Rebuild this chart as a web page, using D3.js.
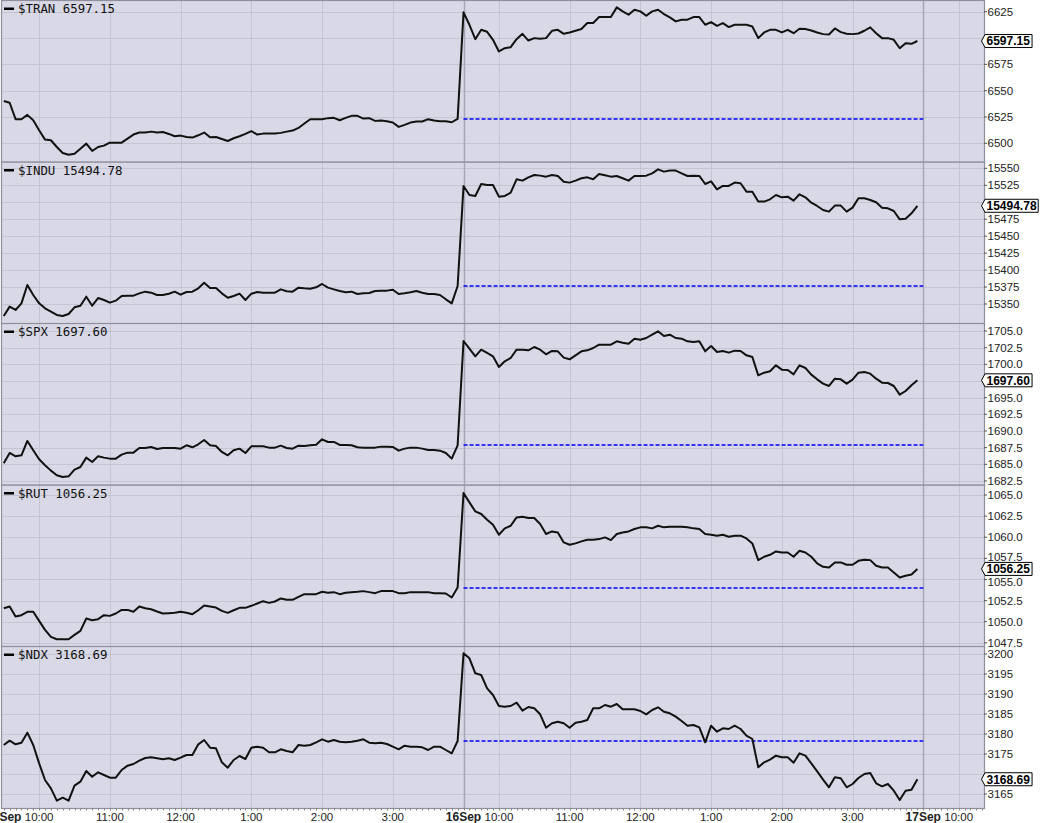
<!DOCTYPE html>
<html><head><meta charset="utf-8">
<script src="https://cdn.jsdelivr.net/npm/d3@7"></script>
<style>
html,body{margin:0;padding:0;background:#fff;}
svg{display:block;}
</style></head><body>
<svg id="chart" width="1040" height="823"></svg>
<script>
// ---------------- DATA ----------------
const symbols = ["$TRAN", "$INDU", "$SPX", "$RUT", "$NDX"];
const barMinutes = 5; // 5-minute bars, sessions joined without gaps

const tranValues = [
6540.1,6538.5,6522.9,6522.9,6527.0,6521.9,6512.4,6503.5,6502.9,6496.5,
6490.8,6489.2,6490.1,6494.9,6499.7,6492.7,6496.5,6497.8,6500.6,6500.6,
6500.6,6504.5,6508.3,6510.2,6510.2,6511.1,6510.2,6510.8,6508.9,6506.7,
6507.3,6506.0,6505.4,6507.6,6510.2,6505.7,6506.0,6504.1,6502.2,6504.8,
6506.7,6508.9,6511.5,6508.3,6509.2,6509.2,6509.2,6509.9,6511.1,6512.1,
6514.6,6518.8,6522.9,6522.9,6522.9,6523.9,6524.2,6521.9,6524.2,6526.1,
6526.1,6523.5,6523.9,6521.3,6521.6,6521.0,6519.7,6515.6,6517.5,6519.7,
6520.7,6520.7,6522.9,6521.6,6521.0,6521.0,6520.0,6523.2,
6624.4,6612.6,6598.9,6607.8,6605.9,6598.3,6587.2,6590.3,6591.3,6598.9,
6604.0,6597.6,6599.9,6599.2,6599.9,6606.9,6607.8,6604.0,6605.3,6606.9,
6608.5,6614.2,6614.2,6619.9,6619.9,6619.9,6629.1,6625.3,6622.1,6626.9,
6625.3,6621.2,6625.3,6626.9,6622.8,6619.6,6615.8,6617.4,6617.4,6619.9,
6619.9,6612.6,6615.1,6611.6,6614.2,6610.4,6612.6,6612.6,6612.6,6611.0,
6599.9,6605.3,6607.8,6607.8,6605.3,6607.8,6604.6,6608.8,6608.5,6607.2,
6605.3,6603.7,6603.4,6609.1,6605.6,6604.0,6603.7,6604.3,6606.9,6610.1,
6604.6,6599.9,6599.9,6598.3,6590.3,6595.1,6594.5,6597.15
];

const induValues = [
15332.3,15346.1,15341.2,15351.0,15378.0,15363.3,15351.0,15343.6,15338.7,15333.8,
15332.3,15335.3,15345.1,15347.5,15360.8,15347.5,15358.8,15355.9,15352.0,15354.9,
15361.8,15362.3,15362.3,15365.7,15368.2,15366.7,15363.3,15363.3,15365.2,15368.2,
15363.8,15367.7,15368.2,15373.1,15381.4,15373.6,15373.6,15365.7,15359.3,15361.8,
15365.2,15355.9,15365.2,15367.7,15366.7,15366.7,15366.7,15371.6,15368.7,15368.2,
15374.1,15373.1,15372.6,15374.6,15379.5,15374.1,15371.6,15369.2,15367.2,15368.2,
15364.7,15365.7,15366.2,15369.2,15369.7,15369.7,15371.1,15364.7,15365.7,15367.2,
15369.2,15366.7,15364.7,15364.7,15363.3,15356.9,15351.0,15376.5,
15524.0,15510.7,15509.2,15526.9,15525.4,15525.4,15508.2,15509.2,15514.1,15533.8,
15531.8,15536.7,15540.2,15539.2,15537.7,15540.2,15538.7,15530.3,15528.9,15531.8,
15535.3,15536.7,15533.8,15541.6,15539.7,15537.7,15538.7,15535.3,15531.8,15538.7,
15538.7,15539.2,15542.6,15548.5,15545.1,15546.6,15546.6,15542.6,15538.7,15539.2,
15538.7,15526.9,15530.8,15519.0,15524.0,15524.0,15528.9,15527.9,15515.6,15515.6,
15500.9,15500.9,15504.3,15510.7,15507.2,15508.2,15502.3,15511.7,15507.2,15499.4,
15494.5,15488.6,15486.1,15495.0,15495.0,15486.1,15492.0,15505.8,15505.8,15503.3,
15499.9,15492.0,15491.0,15487.1,15474.8,15475.8,15483.7,15494.78
];

const spxValues = [
1685.15,1686.70,1686.20,1686.35,1688.50,1687.10,1685.75,1684.85,1684.05,1683.35,
1683.10,1683.20,1684.20,1684.60,1686.00,1685.35,1686.20,1686.00,1685.85,1685.85,
1686.45,1686.75,1686.75,1687.45,1687.45,1687.60,1687.30,1687.45,1687.45,1687.45,
1687.35,1687.85,1687.55,1688.00,1688.65,1687.85,1687.75,1686.85,1686.35,1687.10,
1687.35,1686.70,1687.70,1687.70,1687.70,1687.50,1687.50,1687.80,1687.45,1687.35,
1687.80,1687.75,1687.85,1687.95,1688.75,1688.35,1688.35,1687.90,1687.90,1687.85,
1687.55,1687.50,1687.50,1687.50,1687.65,1687.65,1687.60,1687.05,1687.35,1687.50,
1687.50,1687.35,1687.15,1687.15,1687.05,1686.70,1685.85,1687.85,
1703.50,1702.35,1701.20,1702.20,1701.70,1701.20,1699.60,1700.45,1700.95,1702.20,
1702.20,1702.10,1702.60,1702.20,1701.50,1702.00,1701.95,1701.00,1700.75,1701.35,
1701.95,1702.10,1702.45,1702.95,1702.95,1702.95,1703.45,1703.25,1703.10,1703.85,
1703.70,1703.95,1704.45,1704.95,1704.25,1704.45,1703.95,1703.85,1703.45,1703.35,
1703.45,1701.95,1702.75,1701.85,1702.00,1701.75,1702.05,1702.00,1701.35,1701.10,
1698.35,1698.75,1698.95,1699.85,1699.20,1699.15,1698.50,1699.85,1699.45,1698.45,
1697.75,1697.10,1696.75,1697.85,1697.75,1697.10,1697.70,1698.75,1698.85,1698.60,
1697.85,1697.25,1697.20,1696.75,1695.45,1696.00,1696.85,1697.60
];

const rutValues = [
1051.60,1051.80,1050.61,1050.77,1051.17,1051.17,1050.10,1049.03,1048.20,1047.92,
1047.92,1047.92,1048.44,1048.91,1050.38,1050.18,1050.30,1050.77,1050.69,1050.97,
1051.40,1051.40,1051.17,1051.80,1051.60,1051.48,1051.21,1050.97,1051.01,1051.05,
1051.17,1051.05,1050.89,1051.36,1051.92,1051.80,1051.68,1051.28,1051.05,1051.36,
1051.64,1051.64,1051.88,1052.15,1052.43,1052.23,1052.39,1052.75,1052.59,1052.59,
1052.94,1053.26,1053.26,1053.26,1053.54,1053.42,1053.50,1053.26,1053.42,1053.50,
1053.54,1053.62,1053.50,1053.38,1053.62,1053.62,1053.62,1053.38,1053.38,1053.50,
1053.50,1053.50,1053.50,1053.38,1053.38,1053.34,1052.87,1054.05,
1065.24,1064.13,1063.06,1062.75,1062.08,1061.48,1060.30,1061.05,1061.36,1062.35,
1062.43,1062.27,1062.27,1061.56,1060.38,1060.69,1060.57,1059.39,1059.11,1059.27,
1059.51,1059.70,1059.70,1059.78,1059.98,1059.66,1060.38,1060.57,1060.69,1060.97,
1061.17,1061.17,1061.05,1061.36,1061.17,1061.25,1061.25,1061.25,1061.17,1061.05,
1060.97,1060.38,1060.30,1060.18,1060.30,1060.06,1060.18,1060.18,1059.86,1059.27,
1057.29,1057.69,1057.92,1058.32,1058.20,1058.20,1057.69,1058.40,1058.20,1057.69,
1056.90,1056.50,1056.42,1057.02,1057.02,1056.74,1056.74,1057.21,1057.33,1057.29,
1056.62,1056.42,1056.42,1055.83,1055.24,1055.43,1055.59,1056.25
];

const ndxValues = [
3177.25,3178.33,3177.42,3177.83,3180.33,3177.25,3172.67,3168.50,3166.42,3163.33,
3164.08,3163.33,3167.08,3168.08,3170.75,3169.33,3170.42,3169.75,3169.08,3169.08,
3171.00,3172.08,3172.50,3173.33,3174.00,3174.17,3173.92,3173.67,3173.92,3173.50,
3174.08,3174.75,3174.75,3177.42,3178.50,3176.58,3176.42,3172.92,3171.58,3173.50,
3174.50,3173.75,3176.58,3176.83,3176.58,3175.42,3175.42,3176.17,3175.75,3175.42,
3177.25,3177.08,3177.25,3177.92,3178.67,3178.08,3178.50,3178.08,3177.92,3178.08,
3178.33,3178.67,3177.83,3177.67,3177.83,3177.50,3176.83,3176.17,3177.08,3176.83,
3176.83,3176.67,3176.00,3176.83,3176.83,3176.00,3175.17,3178.25,
3200.20,3198.92,3195.17,3194.75,3191.42,3189.75,3187.00,3186.83,3187.00,3187.83,
3185.83,3186.75,3186.42,3184.92,3181.58,3182.67,3183.08,3182.67,3181.58,3182.83,
3183.08,3183.50,3186.42,3186.42,3187.25,3186.83,3187.50,3186.17,3186.17,3186.17,
3185.75,3184.92,3186.00,3186.67,3185.58,3185.17,3184.33,3183.25,3182.08,3182.25,
3181.67,3177.92,3182.08,3180.58,3181.42,3181.25,3182.08,3181.25,3179.58,3178.75,
3171.67,3172.92,3173.58,3174.58,3174.17,3174.17,3172.83,3175.17,3174.58,3172.67,
3170.67,3168.58,3166.67,3169.17,3168.92,3166.67,3167.50,3169.00,3170.00,3170.25,
3167.67,3166.92,3167.50,3165.83,3163.50,3165.83,3166.08,3168.69
];

const prevCloses = [6523.4, 15376.5, 1687.95, 1054.0, 3178.3];

const tranTicks = [6500, 6525, 6550, 6575, 6600, 6625];
const induTicks = [15350, 15375, 15400, 15425, 15450, 15475, 15500, 15525, 15550];
const spxTicks = [1682.5, 1685.0, 1687.5, 1690.0, 1692.5, 1695.0, 1697.5, 1700.0, 1702.5, 1705.0];
const rutTicks = [1047.5, 1050.0, 1052.5, 1055.0, 1057.5, 1060.0, 1062.5, 1065.0];
const ndxTicks = [3165, 3170, 3175, 3180, 3185, 3190, 3195, 3200];
const tickDecimals = [0, 0, 1, 1, 0];

const xTickMinutes = [0, 30, 90, 150, 210, 270, 330, 390, 420, 480, 540, 600, 660, 720, 780, 810];
const xTickLabels = ["15Sep", "10:00", "11:00", "12:00", "1:00", "2:00", "3:00", "16Sep", "10:00", "11:00", "12:00", "1:00", "2:00", "3:00", "17Sep", "10:00"];
const dayStartMinutes = [0, 390, 780];
const sessionMinutes = 390;

// ---------------- LAYOUT ----------------
const seriesList = [tranValues, induValues, spxValues, rutValues, ndxValues];
const tickList = [tranTicks, induTicks, spxTicks, rutTicks, ndxTicks];
const plotLeft = 2, plotRight = 984;
const panelTops = [1, 162.5, 324, 485.5, 647];
const panelHeight = 161;
// pixel calibration of each panel's value axis: [value1, y1, value2, y2]
const calib = [
  [6625, 11.7, 6500, 143.3],
  [15550, 168.3, 15350, 304.0],
  [1705, 331.0, 1685, 464.3],
  [1065, 495.0, 1050, 621.7],
  [3200, 654.0, 3165, 794.0]
];

const C = {
  bg: "#d8d8e6",
  grid: "#c4c4d3",
  dayGrid: "#a7a7b8",
  border: "#8e8e9c",
  line: "#111111",
  prev: "#0000ff",
  text: "#222222"
};

const svg = d3.select("#chart");
const x = d3.scaleLinear().domain([-1.5, 831.5]).range([plotLeft, plotRight]);
const isDay = m => dayStartMinutes.includes(m);

const defs = svg.append("defs");

seriesList.forEach((vals, k) => {
  const top = panelTops[k], bottom = top + panelHeight;
  const cb = calib[k];
  const y = d3.scaleLinear().domain([cb[0], cb[2]]).range([cb[1], cb[3]]);
  const g = svg.append("g");

  defs.append("clipPath").attr("id", "clip" + k)
    .append("rect").attr("x", plotLeft).attr("y", top)
    .attr("width", plotRight - plotLeft).attr("height", panelHeight);

  g.append("rect").attr("x", plotLeft).attr("y", top)
    .attr("width", plotRight - plotLeft).attr("height", panelHeight)
    .attr("fill", C.bg);

  const inner = g.append("g").attr("clip-path", "url(#clip" + k + ")");

  // horizontal grid
  inner.selectAll("line.h").data(tickList[k]).join("line")
    .attr("x1", plotLeft).attr("x2", plotRight)
    .attr("y1", d => Math.round(y(d)) + 0.5).attr("y2", d => Math.round(y(d)) + 0.5)
    .attr("stroke", C.grid).attr("stroke-width", 1);

  // vertical grid
  inner.selectAll("line.v").data(xTickMinutes.filter(m => m > 0)).join("line")
    .attr("x1", d => Math.round(x(d)) + 0.5).attr("x2", d => Math.round(x(d)) + 0.5)
    .attr("y1", top).attr("y2", bottom)
    .attr("stroke", d => isDay(d) ? C.dayGrid : C.grid)
    .attr("stroke-width", d => isDay(d) ? 1.5 : 1);

  // previous close (dashed)
  const py = Math.round(y(prevCloses[k]));
  inner.append("line")
    .attr("x1", x(sessionMinutes)).attr("x2", x(2 * sessionMinutes))
    .attr("y1", py).attr("y2", py)
    .attr("stroke", C.prev).attr("stroke-width", 1.4).attr("stroke-dasharray", "4,2");

  // price line
  const line = d3.line().x((d, i) => x(i * barMinutes)).y(d => y(d));
  inner.append("path").datum(vals).attr("d", line)
    .attr("fill", "none").attr("stroke", C.line).attr("stroke-width", 2)
    .attr("stroke-linejoin", "round");

  // border
  g.append("rect").attr("x", plotLeft - 0.5).attr("y", top - 0.5)
    .attr("width", plotRight - plotLeft + 1).attr("height", panelHeight + 1)
    .attr("fill", "none").attr("stroke", C.border).attr("stroke-width", 1.2);

  const last = vals[vals.length - 1];
  const ly = y(last);

  // right axis
  const ax = g.append("g");
  tickList[k].forEach(t => {
    const ty = y(t);
    ax.append("line").attr("x1", plotRight).attr("x2", plotRight + 3)
      .attr("y1", ty).attr("y2", ty).attr("stroke", "#555");
    const d = ty - ly;
    if (Math.abs(d) < 9) return; // label hidden behind the last-value box
    // keep labels that sit just next to the box clear of it
    const labelY = Math.abs(d) < 12.5 ? ly + Math.sign(d) * 12.5 : ty;
    ax.append("text").attr("x", plotRight + 3.5).attr("y", labelY).attr("dy", "0.36em")
      .attr("font-family", "'Liberation Sans', Arial, sans-serif")
      .attr("font-size", 11.5).attr("fill", C.text)
      .text(t.toFixed(tickDecimals[k]));
  });

  // last value box
  const label = last.toFixed(2);
  const tw = label.length * 6.15 + 2;
  const bx = plotRight + 1, bh = 13;
  g.append("path")
    .attr("d", `M${bx - 3.5},${ly} L${bx},${ly - bh / 2} L${bx + tw + 2},${ly - bh / 2} L${bx + tw + 2},${ly + bh / 2} L${bx},${ly + bh / 2} Z`)
    .attr("fill", "#fff").attr("stroke", "#000").attr("stroke-width", 1);
  g.append("text").attr("x", bx + 1.5).attr("y", ly).attr("dy", "0.36em")
    .attr("font-family", "'Liberation Sans', Arial, sans-serif")
    .attr("font-size", 12).attr("font-weight", "bold").attr("fill", "#000")
    .text(label);

  // legend label
  g.append("rect").attr("x", 4).attr("y", top + 6.5).attr("width", 10).attr("height", 2.5).attr("fill", "#000");
  g.append("text").attr("x", 18).attr("y", top + 12)
    .attr("font-family", "'DejaVu Sans Mono', monospace")
    .attr("font-size", 12.4).attr("fill", "#111")
    .text(symbols[k] + " " + last.toFixed(2));
});

// bottom axis
const lastBottom = panelTops[4] + panelHeight;
const minor = d3.range(0, 832, 5);
svg.append("g").selectAll("line").data(minor).join("line")
  .attr("x1", d => Math.round(x(d)) + 0.5).attr("x2", d => Math.round(x(d)) + 0.5)
  .attr("y1", lastBottom).attr("y2", lastBottom + 2.5)
  .attr("stroke", "#888").attr("stroke-width", 1);

svg.append("g").selectAll("text").data(xTickMinutes).join("text")
  .attr("x", d => x(d)).attr("y", 821)
  .attr("text-anchor", "middle")
  .attr("font-family", "'Liberation Sans', Arial, sans-serif")
  .attr("font-size", d => isDay(d) ? 12 : 11.5)
  .attr("font-weight", d => isDay(d) ? "bold" : "normal")
  .attr("fill", C.text)
  .text((d, i) => xTickLabels[i]);
</script>
</body></html>
